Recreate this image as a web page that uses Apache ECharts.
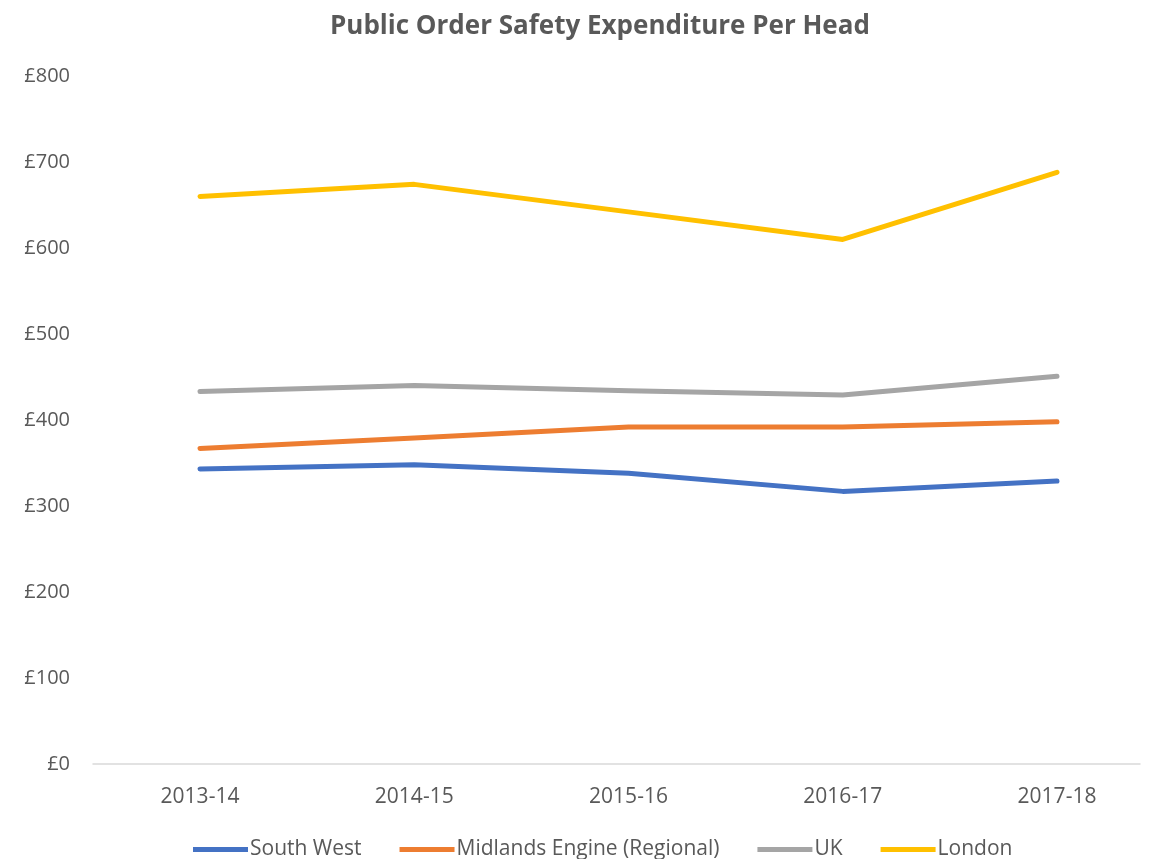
<!DOCTYPE html>
<html>
<head>
<meta charset="utf-8">
<script src="https://cdn.jsdelivr.net/npm/echarts@6/dist/echarts.min.js"></script>
<style>
  html, body { margin: 0; padding: 0; background: #fff; }
  #chart { width: 1150px; height: 859px; }
</style>
</head>
<body>
<div id="chart"></div>
<script>
// data
var years = ['2013-14', '2014-15', '2015-16', '2016-17', '2017-18'];
var southWest = [343, 348, 338, 317, 329];
var midlands = [367, 379, 392, 392, 398];
var uk = [433, 440, 434, 429, 451];
var london = [660, 674, 642, 610, 688];

var txt = '#595959';
var font = '"Open Sans", "Liberation Sans", sans-serif';

function line(name, data, color) {
  return {
    name: name,
    type: 'line',
    data: data,
    showSymbol: false,
    symbol: 'none',
    lineStyle: { width: 5, color: color, cap: 'round', join: 'round' },
    itemStyle: { color: color }
  };
}

var chart = echarts.init(document.getElementById('chart'));
chart.setOption({
  animation: false,
  title: {
    text: 'Public Order Safety Expenditure Per Head',
    left: 325,
    top: 9,
    textStyle: { color: txt, fontSize: 26, fontWeight: 'bold', fontFamily: font }
  },
  legend: {
    bottom: -6,
    left: 188,
    itemWidth: 55,
    itemHeight: 5,
    itemGap: 38,
    icon: 'rect',
    textStyle: { color: txt, fontSize: 21, fontFamily: font, padding: [0, 0, 0, -3] },
    data: ['South West', 'Midlands Engine (Regional)', 'UK', 'London']
  },
  // grid 0 holds the lines, grid 1 only the frame axes (base line + £ labels)
  grid: [
    { left: 200, top: 76, right: 93, height: 688 },
    { left: 93, top: 76, right: 10, height: 688 }
  ],
  xAxis: [
    {
      type: 'category',
      gridIndex: 0,
      data: years,
      boundaryGap: false,
      axisLine: { show: false },
      axisTick: { show: false },
      axisLabel: { color: txt, fontSize: 21, fontFamily: font, margin: 23 }
    },
    {
      type: 'category',
      gridIndex: 1,
      data: years,
      axisLine: { lineStyle: { color: '#D9D9D9', width: 1.5 } },
      axisTick: { show: false },
      axisLabel: { show: false }
    }
  ],
  yAxis: [
    {
      type: 'value',
      gridIndex: 0,
      min: 0,
      max: 800,
      interval: 100,
      show: false
    },
    {
      type: 'value',
      gridIndex: 1,
      min: 0,
      max: 800,
      interval: 100,
      splitLine: { show: false },
      axisLine: { show: false },
      axisTick: { show: false },
      axisLabel: {
        color: txt, fontSize: 20, fontFamily: font, margin: 23,
        formatter: function (v) { return '£' + v; }
      }
    }
  ],
  series: [
    line('South West', southWest, '#4472C4'),
    line('Midlands Engine (Regional)', midlands, '#ED7D31'),
    line('UK', uk, '#A5A5A5'),
    line('London', london, '#FFC000')
  ]
});
</script>
</body>
</html>
